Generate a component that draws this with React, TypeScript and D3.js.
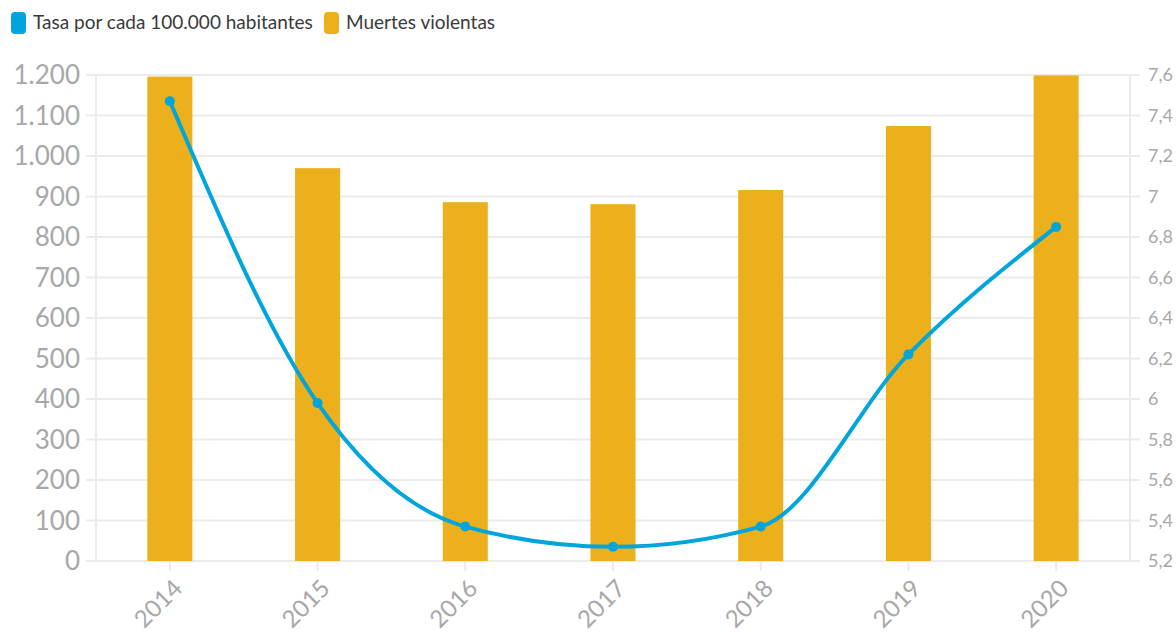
import * as d3 from "d3";

const W = 1176;
const H = 632;

const years = ["2014", "2015", "2016", "2017", "2018", "2019", "2020"];
const deaths = [1196, 970, 886, 881, 916, 1074, 1199];
const rates = [7.47, 5.98, 5.37, 5.27, 5.37, 6.22, 6.85];
const leftTicks = [0, 100, 200, 300, 400, 500, 600, 700, 800, 900, 1000, 1100, 1200];
const rightTicks = [5.2, 5.4, 5.6, 5.8, 6, 6.2, 6.4, 6.6, 6.8, 7, 7.2, 7.4, 7.6];

const BAR = "#ebb01b";
const LINE = "#00a6db";
const GRID = "#ebebeb";
const LABEL = "#a8a8a8";
const FONT = "Lato, 'Open Sans', sans-serif";

const M = { left: 96, right: 1130, top: 75, bottom: 561 };

export default function App() {
  const x = d3.scaleBand().domain(years).range([M.left, M.right]);
  const yL = d3.scaleLinear().domain([0, 1200]).range([M.bottom, M.top]).clamp(true);
  const yR = d3.scaleLinear().domain([5.2, 7.6]).range([M.bottom, M.top]);
  const cx = (y: string) => (x(y) ?? 0) + x.bandwidth() / 2;
  const barW = x.bandwidth() * 0.305;

  const line = d3
    .line<number>()
    .x((_, i) => cx(years[i]))
    .y((d) => yR(d))
    .curve(d3.curveMonotoneX);

  const fmtL = (v: number) => d3.format(",")(v).replace(/,/g, ".");
  const fmtR = (v: number) => String(+v.toFixed(1)).replace(".", ",");

  return (
    <svg
      width={W}
      height={H}
      style={{ position: "absolute", left: 0, top: 0, display: "block", background: "#fff" }}
      fontFamily={FONT}
    >
      {/* legend */}
      <g>
        <rect x={11} y={12} width={15} height={22} rx={4} fill={LINE} />
        <text x={33} y={29} fontSize={19} fill="#3a3a3a">Tasa por cada 100.000 habitantes</text>
        <rect x={324} y={12} width={15} height={22} rx={4} fill={BAR} />
        <text x={346} y={29} fontSize={19} fill="#3a3a3a">Muertes violentas</text>
      </g>

      {/* grid */}
      {leftTicks.map((t) => (
        <line key={t} x1={M.left - 10} x2={M.right + 10} y1={yL(t)} y2={yL(t)} stroke={GRID} strokeWidth={2} />
      ))}
      <line x1={M.left} x2={M.left} y1={M.top} y2={M.bottom} stroke={GRID} strokeWidth={2} />
      <line x1={M.right} x2={M.right} y1={M.top} y2={M.bottom} stroke={GRID} strokeWidth={2} />
      {years.map((y) => (
        <line key={y} x1={cx(y)} x2={cx(y)} y1={M.bottom} y2={M.bottom + 10} stroke={GRID} strokeWidth={2} />
      ))}

      {/* left axis labels */}
      {leftTicks.map((t) => (
        <text key={t} x={80} y={yL(t)} dy="0.36em" textAnchor="end" fontSize={26} fill={LABEL}>
          {fmtL(t)}
        </text>
      ))}
      {/* right axis labels */}
      {rightTicks.map((t) => (
        <text key={t} x={1148} y={yR(t)} dy="0.36em" textAnchor="start" fontSize={18} fill={LABEL}>
          {fmtR(t)}
        </text>
      ))}
      {/* x labels */}
      {years.map((y) => (
        <text
          key={y}
          transform={`translate(${cx(y) + 2},${M.bottom + 17}) rotate(-45)`}
          textAnchor="end"
          dy="0.7em"
          fontSize={24}
          fill={LABEL}
        >
          {y}
        </text>
      ))}

      {/* bars */}
      {deaths.map((d, i) => (
        <rect
          key={years[i]}
          x={cx(years[i]) - barW / 2}
          y={yL(d)}
          width={barW}
          height={M.bottom - yL(d)}
          fill={BAR}
        />
      ))}

      {/* rate line */}
      <path d={line(rates) ?? ""} fill="none" stroke={LINE} strokeWidth={4} />
      {rates.map((r, i) => (
        <circle key={years[i]} cx={cx(years[i])} cy={yR(r)} r={5} fill={LINE} />
      ))}
    </svg>
  );
}
